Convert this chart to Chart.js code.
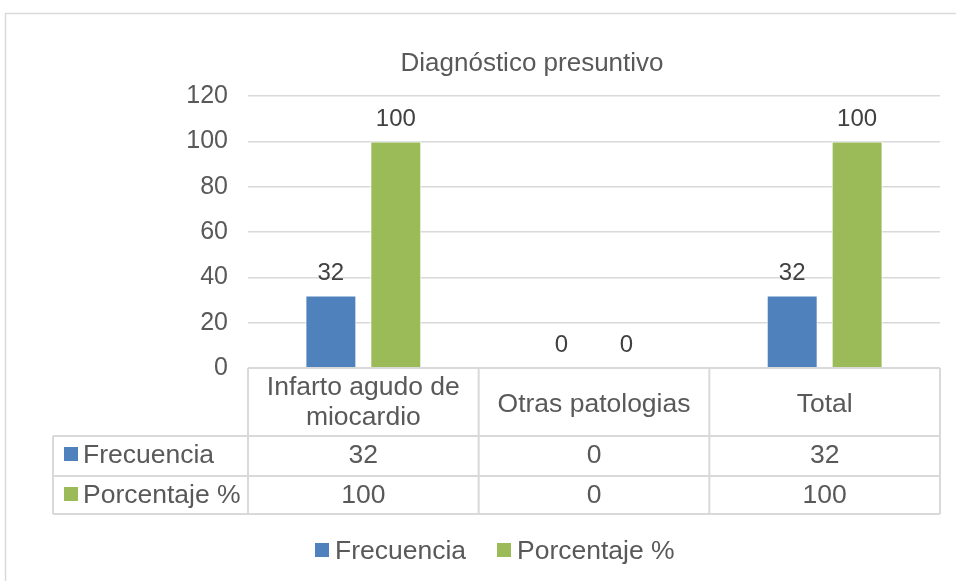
<!DOCTYPE html>
<html>
<head>
<meta charset="utf-8">
<script src="https://cdn.jsdelivr.net/npm/chart.js"></script>
<style>
  html, body { margin: 0; padding: 0; background: #fff; }
  #wrap { width: 956px; height: 581px; position: relative; }
</style>
</head>
<body>
<div id="wrap"><canvas id="c"></canvas></div>
<script>
// datos del gráfico
const categories = [['Infarto agudo de', 'miocardio'], ['Otras patologias'], ['Total']];
const seriesNames = ['Frecuencia', 'Porcentaje %'];
const frecuencia = [32, 0, 32];
const porcentaje = [100, 0, 100];
const seriesColors = ['#4f81bd', '#9bbb59'];
const yTicks = [0, 20, 40, 60, 80, 100, 120];

const FONT = "'Liberation Sans', Arial, sans-serif";
const GRAY = '#d9d9d9';
const TXT = '#595959';

// tabla de datos, etiquetas y leyenda al estilo Excel
const tablePlugin = {
  id: 'tablePlugin',
  afterDraw(chart) {
    const ctx = chart.ctx;
    const area = chart.chartArea;
    const xs = chart.scales.x;
    const n = categories.length;
    const colW = (area.right - area.left) / n;
    const rows = [368, 436, 476, 514];
    const tableLeft = 53;
    const series = [frecuencia, porcentaje];

    ctx.save();
    // marco exterior
    ctx.strokeStyle = GRAY;
    ctx.lineWidth = 1.5;
    ctx.strokeRect(5.5, 13.5, 1000, 600);

    // etiquetas de datos
    ctx.fillStyle = '#404040';
    ctx.font = '24px ' + FONT;
    ctx.textAlign = 'center';
    ctx.textBaseline = 'alphabetic';
    series.forEach((vals, d) => {
      chart.getDatasetMeta(d).data.forEach((bar, i) => {
        ctx.fillText(String(vals[i]), bar.x, bar.y - 16);
      });
    });

    // líneas de la tabla
    ctx.strokeStyle = GRAY;
    ctx.lineWidth = 2;
    ctx.beginPath();
    for (let i = 0; i <= n; i++) {
      const x = area.left + i * colW;
      ctx.moveTo(x, rows[0]);
      ctx.lineTo(x, rows[3]);
    }
    ctx.moveTo(area.left, rows[0]);
    ctx.lineTo(area.right, rows[0]);
    for (let r = 1; r < 4; r++) {
      ctx.moveTo(tableLeft, rows[r]);
      ctx.lineTo(area.right, rows[r]);
    }
    ctx.moveTo(tableLeft, rows[1]);
    ctx.lineTo(tableLeft, rows[3]);
    ctx.stroke();

    // encabezados de categoría
    ctx.fillStyle = TXT;
    ctx.font = '26.5px ' + FONT;
    categories.forEach((lines, i) => {
      const cx = xs.getPixelForValue(i);
      if (lines.length === 2) {
        ctx.fillText(lines[0], cx, 395);
        ctx.fillText(lines[1], cx, 425);
      } else {
        ctx.fillText(lines[0], cx, 412);
      }
    });

    // filas de valores
    const rowBase = [463, 503];
    series.forEach((vals, d) => {
      ctx.textAlign = 'left';
      ctx.fillStyle = seriesColors[d];
      ctx.fillRect(64, rowBase[d] - 16, 14, 14);
      ctx.fillStyle = TXT;
      ctx.fillText(seriesNames[d], 83, rowBase[d]);
      ctx.textAlign = 'center';
      vals.forEach((v, i) => {
        ctx.fillText(String(v), xs.getPixelForValue(i), rowBase[d]);
      });
    });

    // leyenda
    const legX = [315, 497];
    ctx.textAlign = 'left';
    seriesNames.forEach((name, d) => {
      ctx.fillStyle = seriesColors[d];
      ctx.fillRect(legX[d], 543, 14, 14);
      ctx.fillStyle = TXT;
      ctx.fillText(name, legX[d] + 20, 559);
    });
    ctx.restore();
  }
};

new Chart(document.getElementById('c'), {
  type: 'bar',
  data: {
    labels: categories.map(c => c.join(' ')),
    datasets: [
      { label: seriesNames[0], data: frecuencia, backgroundColor: seriesColors[0], borderColor: '#ffffff', borderWidth: 1 },
      { label: seriesNames[1], data: porcentaje, backgroundColor: seriesColors[1], borderColor: '#ffffff', borderWidth: 1 }
    ]
  },
  options: {
    responsive: true,
    maintainAspectRatio: false,
    animation: false,
    categoryPercentage: 0.563,
    barPercentage: 0.785,
    layout: { padding: { top: 48, left: 124, right: 16, bottom: 213 } },
    plugins: {
      legend: { display: false },
      tooltip: { enabled: false },
      title: {
        display: true,
        text: 'Diagnóstico presuntivo',
        color: TXT,
        font: { family: FONT, size: 26, weight: 'normal' },
        padding: { top: 0, bottom: 17 }
      }
    },
    scales: {
      x: { display: false },
      y: {
        min: 0,
        max: 120,
        afterFit(scale) { scale.width = 124; },
        afterBuildTicks(scale) { scale.ticks = yTicks.map(v => ({ value: v })); },
        border: { display: false },
        grid: { color: GRAY, lineWidth: 1.5, drawTicks: false },
        ticks: { color: TXT, padding: 20, font: { family: FONT, size: 25 } }
      }
    }
  },
  plugins: [tablePlugin]
});
</script>
</body>
</html>
